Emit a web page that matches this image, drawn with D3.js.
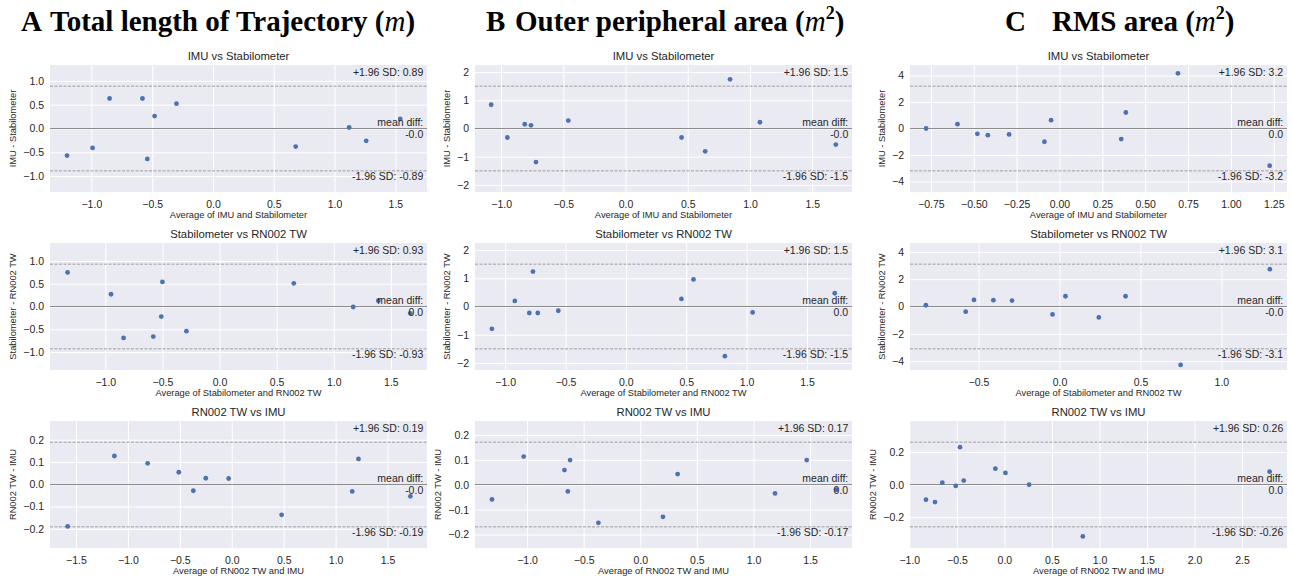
<!DOCTYPE html>
<html>
<head>
<meta charset="utf-8">
<script src="https://cdn.jsdelivr.net/npm/d3@7"></script>
<style>
  body { margin: 0; background: #fff; }
  svg { display: block; font-family: "Liberation Sans", Arial, sans-serif; }
  .header { font-family: "Liberation Serif", "Times New Roman", serif; font-weight: bold; font-size: 29px; fill: #000; }
  .ptitle { font-size: 11.3px; fill: #262626; }
  .tick text { font-size: 10.5px; fill: #262626; }
  .alabel { font-size: 9.3px; fill: #262626; }
  .note { font-size: 10.5px; fill: #262626; }
</style>
</head>
<body>
<svg width="1293" height="579"></svg>
<script>
// column headers
const headerLetters = ["A", "B", "C"];
const headerTitles = ["Total length of Trajectory", "Outer peripheral area", "RMS area"];
const headerPowers = ["", "2", "2"];

// row titles and axis labels
const rowTitles = ["IMU vs Stabilometer", "Stabilometer vs RN002 TW", "RN002 TW vs IMU"];
const yLabels = ["IMU - Stabilometer", "Stabilometer - RN002 TW", "RN002 TW - IMU"];
const xLabels = ["Average of IMU and Stabilometer", "Average of Stabilometer and RN002 TW", "Average of RN002 TW and IMU"];

// A: total length of trajectory
const trajImuStabAvg = [-1.20, -0.99, -0.85, -0.58, -0.48, -0.54, -0.30, 0.68, 1.12, 1.26, 1.54];
const trajImuStabDiff = [-0.57, -0.41, 0.63, 0.63, 0.26, -0.64, 0.52, -0.38, 0.02, -0.26, 0.20];
const trajStabRnAvg = [-1.33, -0.95, -0.84, -0.58, -0.50, -0.51, -0.29, 0.65, 1.17, 1.39, 1.67];
const trajStabRnDiff = [0.75, 0.27, -0.69, -0.66, 0.54, -0.22, -0.54, 0.51, -0.01, 0.13, -0.15];
const trajRnImuAvg = [-1.58, -1.13, -0.81, -0.51, -0.37, -0.25, -0.03, 0.48, 1.16, 1.22, 1.72];
const trajRnImuDiff = [-0.189, 0.127, 0.094, 0.054, -0.029, 0.027, 0.026, -0.137, -0.032, 0.114, -0.054];

// B: outer peripheral area
const outerImuStabAvg = [-1.08, -0.95, -0.81, -0.76, -0.72, -0.46, 0.45, 0.64, 0.84, 1.08, 1.69];
const outerImuStabDiff = [0.84, -0.32, 0.15, 0.11, -1.19, 0.28, -0.32, -0.81, 1.74, 0.22, -0.57];
const outerStabRnAvg = [-1.11, -0.92, -0.80, -0.77, -0.73, -0.56, 0.46, 0.56, 0.82, 1.05, 1.73];
const outerStabRnDiff = [-0.79, 0.20, -0.23, 1.24, -0.23, -0.15, 0.27, 0.96, -1.76, -0.21, 0.47];
const outerRnImuAvg = [-1.31, -1.03, -0.67, -0.62, -0.64, -0.37, 0.20, 0.33, 1.19, 1.47, 1.73];
const outerRnImuDiff = [-0.059, 0.113, 0.059, 0.099, -0.027, -0.153, -0.129, 0.043, -0.035, 0.099, -0.020];

// C: RMS area
const rmsImuStabAvg = [-0.778, -0.595, -0.479, -0.418, -0.294, -0.088, -0.049, 0.360, 0.387, 0.691, 1.226];
const rmsImuStabDiff = [0.0, 0.33, -0.40, -0.50, -0.45, -1.00, 0.63, -0.80, 1.21, 4.17, -2.81];
const rmsStabRnAvg = [-0.825, -0.579, -0.528, -0.408, -0.293, -0.043, 0.037, 0.243, 0.408, 0.748, 1.299];
const rmsStabRnDiff = [0.09, -0.38, 0.48, 0.46, 0.43, -0.58, 0.75, -0.80, 0.75, -4.28, 2.73];
const rmsRnImuAvg = [-0.825, -0.730, -0.653, -0.512, -0.467, -0.428, -0.095, 0.011, 0.260, 0.825, 2.790];
const rmsRnImuDiff = [-0.092, -0.107, 0.012, -0.008, 0.230, 0.025, 0.098, 0.072, 0.0, -0.318, 0.080];

// mean difference and 1.96 SD limit, per column (rows top to bottom)
const trajMean = [-0.001, 0.001, -0.001];
const trajLimit = [0.89, 0.93, 0.19];
const outerMean = [-0.001, 0.001, 0.001];
const outerLimit = [1.5, 1.5, 0.17];
const rmsMean = [0.001, -0.001, 0.001];
const rmsLimit = [3.2, 3.1, 0.26];

// x axis limits
const trajXlim = [[-1.34, 1.76], [-1.484, 1.816], [-1.75, 1.88]];
const outerXlim = [[-1.21, 1.82], [-1.25, 1.873], [-1.46, 1.87]];
const rmsXlim = [[-0.872, 1.327], [-0.923, 1.405], [-0.993, 2.973]];

// tick values
const ticksHalf = [-1.0, -0.5, 0.0, 0.5, 1.0, 1.5];
const ticksHalfWide = [-1.5, -1.0, -0.5, 0.0, 0.5, 1.0, 1.5];
const ticksQuarter = [-0.75, -0.5, -0.25, 0.0, 0.25, 0.5, 0.75, 1.0, 1.25];
const ticksHalfShort = [-0.5, 0.0, 0.5, 1.0];
const ticksHalfLong = [-1.0, -0.5, 0.0, 0.5, 1.0, 1.5, 2.0, 2.5];
const yTicksOne = [-1.0, -0.5, 0.0, 0.5, 1.0];
const yTicksTwo = [-2, -1, 0, 1, 2];
const yTicksFour = [-4, -2, 0, 2, 4];
const yTicksTenth = [-0.2, -0.1, 0.0, 0.1, 0.2];
const yTicksFifth = [-0.2, 0.0, 0.2];

// panel table
const panels = [
  {col: 0, row: 0, avg: trajImuStabAvg, diff: trajImuStabDiff, mean: trajMean[0], limit: trajLimit[0], xlim: trajXlim[0], xTicks: ticksHalf, xFmt: ".1f", yTicks: yTicksOne, yFmt: ".1f"},
  {col: 0, row: 1, avg: trajStabRnAvg, diff: trajStabRnDiff, mean: trajMean[1], limit: trajLimit[1], xlim: trajXlim[1], xTicks: ticksHalf, xFmt: ".1f", yTicks: yTicksOne, yFmt: ".1f"},
  {col: 0, row: 2, avg: trajRnImuAvg, diff: trajRnImuDiff, mean: trajMean[2], limit: trajLimit[2], xlim: trajXlim[2], xTicks: ticksHalfWide, xFmt: ".1f", yTicks: yTicksTenth, yFmt: ".1f"},
  {col: 1, row: 0, avg: outerImuStabAvg, diff: outerImuStabDiff, mean: outerMean[0], limit: outerLimit[0], xlim: outerXlim[0], xTicks: ticksHalf, xFmt: ".1f", yTicks: yTicksTwo, yFmt: "d"},
  {col: 1, row: 1, avg: outerStabRnAvg, diff: outerStabRnDiff, mean: outerMean[1], limit: outerLimit[1], xlim: outerXlim[1], xTicks: ticksHalf, xFmt: ".1f", yTicks: yTicksTwo, yFmt: "d"},
  {col: 1, row: 2, avg: outerRnImuAvg, diff: outerRnImuDiff, mean: outerMean[2], limit: outerLimit[2], xlim: outerXlim[2], xTicks: ticksHalf, xFmt: ".1f", yTicks: yTicksTenth, yFmt: ".1f"},
  {col: 2, row: 0, avg: rmsImuStabAvg, diff: rmsImuStabDiff, mean: rmsMean[0], limit: rmsLimit[0], xlim: rmsXlim[0], xTicks: ticksQuarter, xFmt: ".2f", yTicks: yTicksFour, yFmt: "d"},
  {col: 2, row: 1, avg: rmsStabRnAvg, diff: rmsStabRnDiff, mean: rmsMean[1], limit: rmsLimit[1], xlim: rmsXlim[1], xTicks: ticksHalfShort, xFmt: ".1f", yTicks: yTicksFour, yFmt: "d"},
  {col: 2, row: 2, avg: rmsRnImuAvg, diff: rmsRnImuDiff, mean: rmsMean[2], limit: rmsLimit[2], xlim: rmsXlim[2], xTicks: ticksHalfLong, xFmt: ".1f", yTicks: yTicksFifth, yFmt: ".1f"}
];

// define layout
const colLeft = [50, 475, 910];
const rowTop = [65, 243, 421];
const width = 377;
const height = 127;

// define formatters (python style hyphen for annotations)
const hyphen = d3.formatLocale({decimal: ".", thousands: ",", grouping: [3], currency: ["", ""], minus: "-"});
const fmtLimit = hyphen.format(".2~g");
const fmtMean = v => (v < 0 ? "-" : "") + Math.abs(v).toFixed(1);

const svg = d3.select("svg");

// append column headers
const headerX = [[21, 50], [486, 515], [1005, 1052]];
headerLetters.forEach((letter, i) => {
  svg.append("text")
    .attr("class", "header")
    .attr("x", headerX[i][0])
    .attr("y", 31)
    .text(letter);
  const t = svg.append("text")
    .attr("class", "header")
    .attr("x", headerX[i][1])
    .attr("y", 31);
  t.append("tspan").text(headerTitles[i] + " (");
  t.append("tspan")
    .style("font-style", "italic")
    .style("font-weight", "normal")
    .text("m");
  if (headerPowers[i]) {
    t.append("tspan")
      .attr("dy", -12)
      .style("font-size", "18px")
      .text(headerPowers[i]);
    t.append("tspan").attr("dy", 12).text(")");
  } else {
    t.append("tspan").text(")");
  }
});

panels.forEach(p => {
  const g = svg.append("g")
    .attr("transform", "translate(" + colLeft[p.col] + "," + rowTop[p.row] + ")");

  // define scales
  const x = d3.scaleLinear().domain(p.xlim).range([0, width]);
  const half = 1.5 * p.limit;
  const y = d3.scaleLinear().domain([p.mean - half, p.mean + half]).range([height, 0]);

  // background
  g.append("rect")
    .attr("width", width)
    .attr("height", height)
    .attr("fill", "#eaeaf2");

  // grid
  g.append("g")
    .attr("transform", "translate(0," + height + ")")
    .call(d3.axisBottom(x).tickValues(p.xTicks).tickSize(-height).tickFormat(""))
    .call(a => a.select(".domain").remove())
    .selectAll("line").attr("stroke", "#fff").attr("stroke-width", 1);
  g.append("g")
    .call(d3.axisLeft(y).tickValues(p.yTicks).tickSize(-width).tickFormat(""))
    .call(a => a.select(".domain").remove())
    .selectAll("line").attr("stroke", "#fff").attr("stroke-width", 1);

  // axes labels
  g.append("g")
    .attr("transform", "translate(0," + height + ")")
    .call(d3.axisBottom(x).tickValues(p.xTicks).tickSize(0).tickPadding(9).tickFormat(d3.format(p.xFmt)))
    .call(a => a.select(".domain").remove())
    .selectAll("text").attr("font-family", null).attr("font-size", null);
  const leftAxis = g.append("g")
    .call(d3.axisLeft(y).tickValues(p.yTicks).tickSize(0).tickPadding(6).tickFormat(d3.format(p.yFmt)))
    .call(a => a.select(".domain").remove());
  leftAxis.selectAll("text").attr("font-family", null).attr("font-size", null);

  // mean and limit lines
  g.append("line")
    .attr("x1", 0).attr("x2", width)
    .attr("y1", y(p.mean)).attr("y2", y(p.mean))
    .attr("stroke", "#8c8c8c").attr("stroke-width", 1);
  [p.mean - p.limit, p.mean + p.limit].forEach(v => {
    g.append("line")
      .attr("x1", 0).attr("x2", width)
      .attr("y1", y(v)).attr("y2", y(v))
      .attr("stroke", "#8c8c8c").attr("stroke-width", 0.8)
      .attr("stroke-dasharray", "3,1.5");
  });

  // points
  g.selectAll("circle")
    .data(d3.zip(p.avg, p.diff))
    .enter()
    .append("circle")
    .attr("cx", d => x(d[0]))
    .attr("cy", d => y(d[1]))
    .attr("r", 2.4)
    .attr("fill", "#4c72b0");

  // annotations
  g.append("text")
    .attr("class", "note")
    .attr("text-anchor", "end")
    .attr("x", width * 0.99)
    .attr("y", height * 0.08 + 0.5)
    .text("+1.96 SD: " + fmtLimit(p.mean + p.limit));
  g.append("text")
    .attr("class", "note")
    .attr("text-anchor", "end")
    .attr("x", width * 0.99)
    .attr("y", height * 0.93 - 3)
    .text("-1.96 SD: " + fmtLimit(p.mean - p.limit));
  const md = g.append("text")
    .attr("class", "note")
    .attr("text-anchor", "end");
  md.append("tspan").attr("x", width * 0.99).attr("y", y(p.mean) - 3).text("mean diff:");
  md.append("tspan").attr("x", width * 0.99).attr("y", y(p.mean) + 9.5).text(fmtMean(p.mean));

  // title
  g.append("text")
    .attr("class", "ptitle")
    .attr("text-anchor", "middle")
    .attr("x", width / 2)
    .attr("y", -5)
    .text(rowTitles[p.row]);

  // x label
  g.append("text")
    .attr("class", "alabel")
    .attr("text-anchor", "middle")
    .attr("x", width / 2)
    .attr("y", height + 26)
    .text(xLabels[p.row]);

  // y label, left of the tick labels
  const tickLeft = leftAxis.node().getBBox().x;
  g.append("text")
    .attr("class", "alabel")
    .attr("text-anchor", "middle")
    .attr("transform", "translate(" + (tickLeft - 7.5) + "," + (height / 2) + ") rotate(-90)")
    .text(yLabels[p.row]);
});
</script>
</body>
</html>
